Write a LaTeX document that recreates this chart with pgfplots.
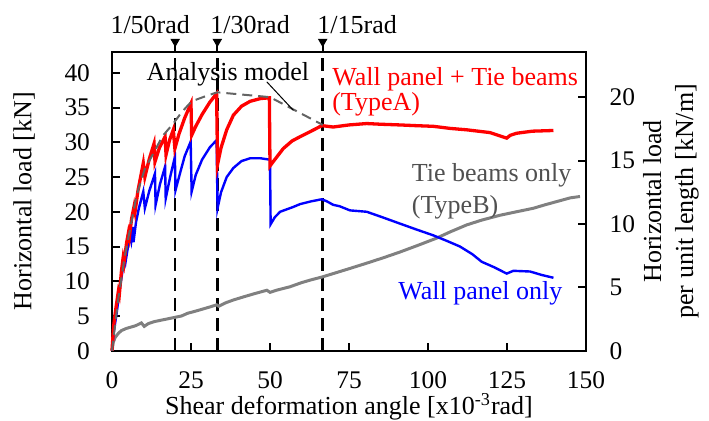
\documentclass[border=0pt]{standalone}
\usepackage{fontspec}
\setmainfont{Liberation Serif}
\usepackage{pgfplots}
\pgfplotsset{compat=1.18}
\usetikzlibrary{calc}
\definecolor{cred}{RGB}{255,0,0}
\definecolor{cblue}{RGB}{0,0,255}
\definecolor{cgray}{RGB}{128,128,128}
\definecolor{cdash}{RGB}{100,100,100}
\definecolor{ctext}{RGB}{80,80,80}
\begin{document}
\begin{tikzpicture}
\begin{axis}[name=main,
  scale only axis, width=237pt, height=149.35pt,
  xmin=0, xmax=150, ymin=0, ymax=43,
  xtick={0,25,...,150}, ytick={0,5,...,40},
  xtick pos=lower, ytick pos=left, tick align=inside,
  major tick length=4pt,
  axis line style={line width=1.1pt},
  every tick/.style={black, line width=1pt},
  /pgf/number format/assume math mode=true,
  tick label style={font=\fontsize{12.7}{14}\selectfont},
  xticklabel style={inner sep=0pt, yshift=-10.5pt},
  yticklabel style={xshift=-7.5pt},
  label style={font=\fontsize{13}{15}\selectfont},
  xlabel={Shear deformation angle [x10\textsuperscript{-3}rad]},
  ylabel={Horizontal load [kN]},
  xlabel style={at={(axis description cs:0.5,-0.187)}, anchor=center, inner sep=0pt},
  ylabel style={at={(axis description cs:-0.1857,0.5)}, anchor=center},
  clip=false,
]
% dashed drift lines
\addplot[black, line width=1.2pt, dash pattern=on 6.5pt off 3.5pt] coordinates {(20,0) (20,43)};
\addplot[black, line width=1.2pt, dash pattern=on 6.5pt off 3.5pt] coordinates {(33.33,0) (33.33,43)};
\addplot[black, line width=1.2pt, dash pattern=on 6.5pt off 3.5pt] coordinates {(66.67,0) (66.67,43)};
% stems and triangles
\addplot[black, line width=1pt] coordinates {(20,43) (20,44)};
\addplot[black, line width=1pt] coordinates {(33.33,43) (33.33,44)};
\addplot[black, line width=1pt] coordinates {(66.67,43) (66.67,44)};
\addplot[only marks, mark=triangle*, mark size=2.4pt, mark options={rotate=180, fill=black, draw=black}] coordinates {(20,44.5) (33.33,44.5) (66.67,44.5)};
% Tie beams only (TypeB)
\addplot[cgray, line width=1.5pt] coordinates {
(0,0) (0.4,1.2) (1,1.9) (2,2.5) (3,2.9) (4.5,3.2) (6,3.4) (7.5,3.6) (9.3,4.0) (10.2,3.5) (11.5,3.9) (13.5,4.2) (16.7,4.5) (19.9,4.8) (22,5.0) (24,5.4) (25.7,5.6) (28,5.9) (31,6.3) (33.1,6.6) (33.8,6.4) (36,6.9) (38.4,7.3) (42,7.8) (45,8.2) (49,8.7) (50,8.4) (52,8.7) (56.3,9.2) (60,9.8) (63,10.2) (66.4,10.6) (70,11.1) (75,11.8) (80.6,12.6) (86,13.4) (91.1,14.2) (97,15.2) (102.7,16.2) (107,17.1) (112.2,18.1) (117,18.8) (122.8,19.5) (128,20) (133.3,20.5) (137,21) (141.8,21.6) (145,22) (148.1,22.2)};
% Wall panel only
\addplot[cblue, line width=1.2pt] coordinates {
(0,0) (0.5,2.5) (1.5,5.5) (2.5,9) (3.5,12) (4,13.5) (4.3,12.8) (5,14.8) (5.8,16.5) (6.1,15.8) (6.6,17.8) (6.8,15.6) (7.6,18.5) (8.5,20.5) (9.9,22.9) (10.4,20.5) (11.8,23) (13.6,25.5) (13.8,21) (15.2,24) (16.8,26.5) (17.0,21.9) (18.4,25) (19.9,27.9) (20.1,23.1) (21.5,25.5) (23,28) (24.9,30.1) (25.2,22.9) (26.5,25.3) (28.5,27.5) (31,29.3) (33.1,30.3) (33.4,20.5) (34.5,22.8) (36.3,25) (38.4,26.3) (41,27.3) (43.7,27.7) (47,27.7) (50,27.5) (50.2,18.2) (51.5,19.2) (53.2,20) (57.4,20.7) (59.5,21.1) (63,21.5) (66.4,21.8) (68,21.5) (70,21) (72,20.8) (75.3,20.2) (80.6,20) (85,19.3) (91.1,18.3) (96,17.5) (101.7,16.6) (106,15.8) (110.1,15) (114,13.9) (117,12.8) (121,12) (124.9,11.1) (127,11.5) (132.3,11.4) (136,10.9) (139.7,10.5)};
% Wall panel + Tie beams (TypeA)
\addplot[cred, line width=1.65pt] coordinates {
(0,0) (0.5,3.5) (1.2,6) (2,8.5) (2.3,8) (3,11.5) (3.5,13.3) (3.8,12.6) (4.6,15.5) (5.2,17) (5.5,16.3) (6.2,19) (7,20.8) (7.3,20) (8.2,23) (9.9,27) (10.4,25) (11.8,27.6) (13.3,29.8) (13.6,27.2) (15,29.2) (16.8,30.8) (17.1,28.2) (18.2,30.3) (19.4,31.8) (19.9,29.1) (21.2,31.2) (23,33.5) (25,35.6) (25.2,31) (26.5,32.3) (28.5,34) (31,35.8) (33.1,37) (33.4,26.8) (34.5,29.2) (36.3,31.8) (38.4,33.9) (41,35.2) (43.7,35.9) (47,36.3) (49.8,36.4) (50,26.6) (52,27.8) (54.2,29.1) (57,30.2) (59.5,30.8) (63,31.6) (66.4,32.4) (70,32.2) (75,32.5) (80.6,32.7) (85,32.6) (91.1,32.5) (96,32.4) (101.7,32.3) (107,32) (112.2,31.8) (119.6,31.4) (124.9,30.6) (126,31) (128,31.3) (133,31.6) (139.7,31.7)};
% Analysis model
\addplot[cdash, line width=1pt, dash pattern=on 5pt off 3pt] coordinates {
(0,0) (2,7.5) (4,13.5) (6.7,19.8) (7.8,22.4) (10.4,26.2) (13.1,28.4) (16,30.9) (19.4,32.7) (22,34.3) (25.2,35.9) (29.4,36.6) (33.3,37.2) (50,36.5) (66.7,32.5)};
% leader line
\addplot[black, line width=0.5pt] coordinates {(49,38.7) (57.4,34.6)};
% texts
\node[anchor=base, font=\fontsize{13}{15}\selectfont] at (axis cs:36.7,38.95) {Analysis model};
\node[anchor=base west, inner sep=0pt, text=cred, font=\fontsize{13}{15}\selectfont] at (axis cs:69.6,38.2) {Wall panel + Tie beams};
\node[anchor=base west, inner sep=0pt, text=cred, font=\fontsize{13}{15}\selectfont] at (axis cs:69.6,34.6) {(TypeA)};
\node[anchor=base west, inner sep=0pt, text=ctext, font=\fontsize{13}{15}\selectfont] at (axis cs:94.8,24.3) {Tie beams only};
\node[anchor=base west, inner sep=0pt, text=ctext, font=\fontsize{13}{15}\selectfont] at (axis cs:94.8,19.8) {(TypeB)};
\node[anchor=base west, inner sep=0pt, text=cblue, font=\fontsize{13}{15}\selectfont] at (axis cs:90.5,7.3) {Wall panel only};
\node[anchor=base west, inner sep=0pt, font=\fontsize{13}{15}\selectfont] at (axis cs:-0.6,45.7) {1/50rad};
\node[anchor=base west, inner sep=0pt, font=\fontsize{13}{15}\selectfont] at (axis cs:31.0,45.7) {1/30rad};
\node[anchor=base west, inner sep=0pt, font=\fontsize{13}{15}\selectfont] at (axis cs:64.9,45.7) {1/15rad};
\end{axis}
\begin{axis}[
  scale only axis, width=237pt, height=149.35pt,
  xmin=0, xmax=150, ymin=0, ymax=23.58,
  axis x line=none, axis y line*=right,
  ytick={0,5,...,20}, tick align=inside,
  major tick length=4pt,
  axis line style={line width=1.1pt, -},
  every tick/.style={black, line width=1pt},
  /pgf/number format/assume math mode=true,
  tick label style={font=\fontsize{12.7}{14}\selectfont},
  yticklabel style={xshift=8.3pt},
  ylabel={Horizontal load\\per unit length [kN/m]},
  ylabel style={at={(axis description cs:1.1793,0.5)}, anchor=center, align=center, font=\fontsize{13}{16}\selectfont},
]
\end{axis}
\pgfresetboundingbox
\path[use as bounding box] ($(main.south west)+(-56pt,-35.15pt)$) rectangle ($(main.north east)+(61.5pt,26pt)$);
\end{tikzpicture}
\end{document}
